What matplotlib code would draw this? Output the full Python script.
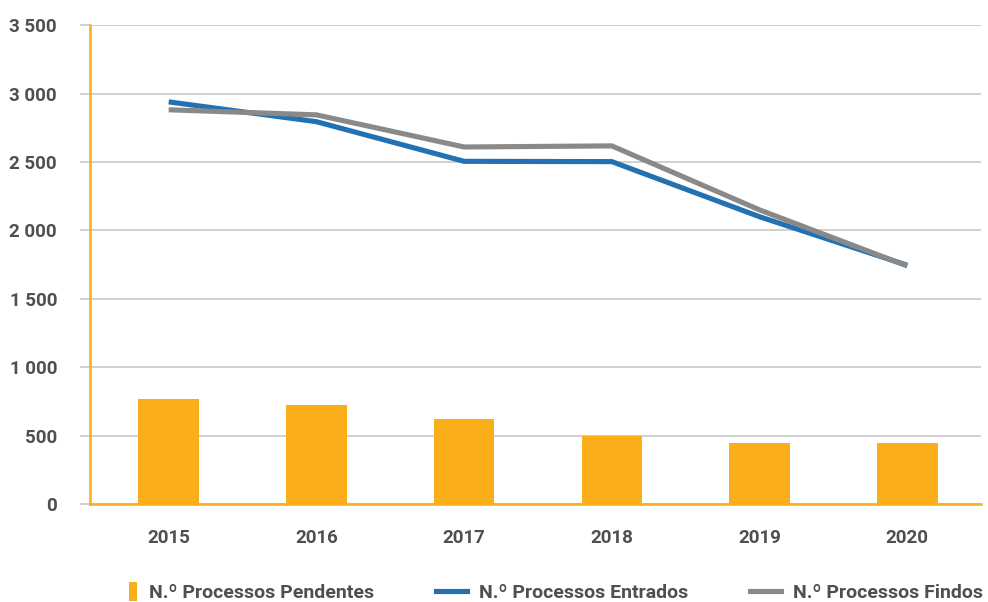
import matplotlib
matplotlib.use("Agg")
import matplotlib.pyplot as plt
from matplotlib.patches import Patch, Rectangle
from matplotlib.lines import Line2D
from matplotlib.legend_handler import HandlerPatch
from matplotlib.ticker import FuncFormatter

years = ["2015", "2016", "2017", "2018", "2019", "2020"]
pendentes = [765, 720, 620, 500, 445, 445]
entrados = [2940, 2795, 2505, 2503, 2100, 1745]
findos = [2882, 2845, 2610, 2618, 2150, 1740]

c_orange = "#F9AE1A"
c_blue = "#2271B3"
c_grey = "#898989"
c_text = "#4D4F53"

plt.rcParams['font.family'] = ['Roboto', 'DejaVu Sans']

fig = plt.figure(figsize=(9.88, 6.02), dpi=100)
ax = fig.add_axes([0.0915, 0.163, 0.9015, 0.795])

x = list(range(len(years)))
ax.bar(x, pendentes, width=0.41, color=c_orange, zorder=2, label="N.º Processos Pendentes")
ax.plot(x, entrados, color=c_blue, lw=3.7, zorder=3, solid_capstyle='butt', label="N.º Processos Entrados")
ax.plot(x, findos, color=c_grey, lw=3.7, zorder=3, solid_capstyle='butt', label="N.º Processos Findos")

ax.set_xlim(-0.53, 5.5)
ax.set_ylim(0, 3500)
ax.set_yticks(range(0, 3501, 500))
ax.yaxis.set_major_formatter(FuncFormatter(lambda v, p: f"{int(v):,}".replace(",", " ")))
ax.set_xticks(x)
ax.set_xticklabels(years)

ax.grid(axis='y', color='#C8C8C8', lw=1.2, zorder=0)
ax.set_axisbelow(True)
for s in ['top', 'right']:
    ax.spines[s].set_visible(False)
ax.spines['left'].set_color(c_orange)
ax.spines['left'].set_linewidth(1.8)
ax.spines['bottom'].set_color(c_orange)
ax.spines['bottom'].set_linewidth(1.8)

ax.tick_params(axis='y', length=7, color='#C8C8C8', width=1.2, pad=17,
               labelsize=13.5, labelcolor=c_text)
ax.tick_params(axis='x', length=0, pad=18, labelsize=13.5, labelcolor=c_text)
for lab in ax.get_yticklabels() + ax.get_xticklabels():
    lab.set_fontweight('bold')


def bar_handle(legend, orig_handle, xdescent, ydescent, width, height, fontsize):
    return Rectangle((width - 6 - xdescent, -ydescent - 2), 6, height + 4,
                     facecolor=c_orange, edgecolor='none')


handles = [Patch(facecolor=c_orange),
           Line2D([0], [0], color=c_blue, lw=3.7),
           Line2D([0], [0], color=c_grey, lw=3.7)]
labels = ["N.º Processos Pendentes", "N.º Processos Entrados", "N.º Processos Findos"]
leg = fig.legend(handles, labels, loc='center', bbox_to_anchor=(0.551, 0.015), ncol=3,
                 frameon=False, handlelength=1.6, handletextpad=0.6, columnspacing=3.2,
                 prop={'size': 14, 'weight': 'bold'},
                 handler_map={Patch: HandlerPatch(patch_func=bar_handle)})
for t in leg.get_texts():
    t.set_color(c_text)

fig.savefig("out.png", dpi=100)
